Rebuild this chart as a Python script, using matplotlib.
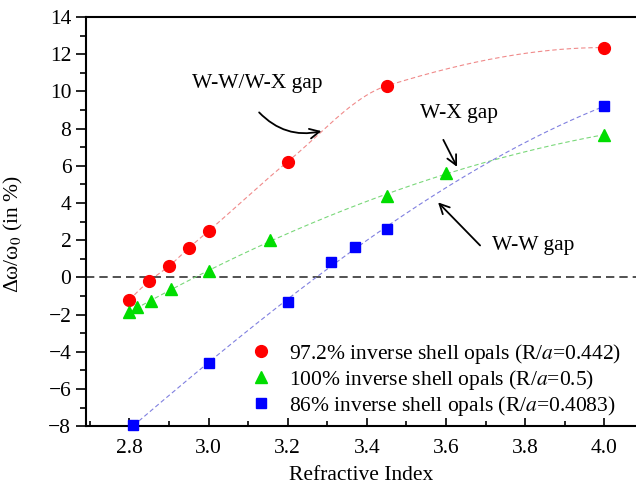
import numpy as np
import matplotlib
matplotlib.use("Agg")
import matplotlib.pyplot as plt
from matplotlib.ticker import MultipleLocator

# values
n_red = [2.80, 2.85, 2.90, 2.95, 3.00, 3.20, 3.45, 4.00]
gap_red = [-1.22, -0.20, 0.60, 1.58, 2.49, 6.22, 10.30, 12.36]

n_green = [2.80, 2.82, 2.855, 2.906, 3.00, 3.156, 3.45, 3.60, 4.00]
gap_green = [-1.86, -1.60, -1.29, -0.65, 0.34, 2.03, 4.37, 5.63, 7.67]

n_blue = [2.81, 3.00, 3.20, 3.31, 3.37, 3.45, 4.00]
gap_blue = [-7.96, -4.60, -1.30, 0.82, 1.61, 2.58, 9.21]

labels = [
    "97.2% inverse shell opals (R/$a$=0.442)",
    "100% inverse shell opals (R/$a$=0.5)",
    "86% inverse shell opals (R/$a$=0.4083)",
]

plt.rcParams["font.family"] = ["Liberation Serif", "DejaVu Serif"]
plt.rcParams["mathtext.fontset"] = "stix"

FS = 15.5


def pchip_curve(x, y, num=300):
    """Smooth monotone (PCHIP) guide line through the data points."""
    x = np.asarray(x, float)
    y = np.asarray(y, float)
    n = len(x)
    h = np.diff(x)
    delta = np.diff(y) / h
    d = np.zeros(n)
    for k in range(1, n - 1):
        if delta[k - 1] * delta[k] > 0:
            w1 = 2 * h[k] + h[k - 1]
            w2 = h[k] + 2 * h[k - 1]
            d[k] = (w1 + w2) / (w1 / delta[k - 1] + w2 / delta[k])

    def end_slope(h0, h1, d0, d1):
        s = ((2 * h0 + h1) * d0 - h0 * d1) / (h0 + h1)
        if np.sign(s) != np.sign(d0):
            s = 0.0
        elif np.sign(d0) != np.sign(d1) and abs(s) > abs(3 * d0):
            s = 3 * d0
        return s

    d[0] = end_slope(h[0], h[1], delta[0], delta[1])
    d[-1] = end_slope(h[-1], h[-2], delta[-1], delta[-2])

    xs = np.linspace(x[0], x[-1], num)
    i = np.clip(np.searchsorted(x, xs) - 1, 0, n - 2)
    t = (xs - x[i]) / h[i]
    ys = ((2 * t**3 - 3 * t**2 + 1) * y[i] + (t**3 - 2 * t**2 + t) * h[i] * d[i]
          + (-2 * t**3 + 3 * t**2) * y[i + 1] + (t**3 - t**2) * h[i] * d[i + 1])
    return xs, ys


def poly_curve(x, y, deg=3, num=300):
    xs = np.linspace(min(x), max(x), num)
    return xs, np.polyval(np.polyfit(x, y, deg), xs)


fig = plt.figure(figsize=(6.36, 4.87), dpi=100)
ax = fig.add_axes([0.135, 0.125, 0.865, 0.84])

series = [
    (n_red, gap_red, "o", "#ff0000", "#f08a8a", 8.5, pchip_curve),
    (n_green, gap_green, "^", "#00dd00", "#7ad87a", 9, poly_curve),
    (n_blue, gap_blue, "s", "#0000ff", "#8080e0", 7, poly_curve),
]

for (x, y, mk, col, lcol, ms, curve), lab in zip(series, labels):
    xs, ys = curve(x, y)
    ax.plot(xs, ys, ls=(0, (4, 2.5)), lw=0.8, color=lcol, zorder=2)
    ax.plot(x, y, mk, color=col, ms=ms, mec=col, label=lab, zorder=3, clip_on=False)

ax.axhline(0, color="#333333", ls=(0, (5, 3)), lw=1.2, zorder=1)

ax.set_xlim(2.69, 4.08)
ax.set_ylim(-8, 14)
ax.xaxis.set_major_locator(MultipleLocator(0.2))
ax.xaxis.set_minor_locator(MultipleLocator(0.1))
ax.yaxis.set_major_locator(MultipleLocator(2))
ax.yaxis.set_minor_locator(MultipleLocator(1))
ax.xaxis.set_major_formatter(plt.FuncFormatter(lambda v, p: f"{v:.1f}"))

ax.tick_params(axis="x", which="major", direction="in", length=6, width=1.2, labelsize=FS, pad=9)
ax.tick_params(axis="x", which="minor", direction="in", length=3.5, width=1.2)
ax.tick_params(axis="y", which="major", direction="out", length=7, width=1.2, labelsize=FS)
ax.tick_params(axis="y", which="minor", direction="out", length=4, width=1.2)
for s in ["left", "bottom", "top"]:
    ax.spines[s].set_linewidth(1.5)
ax.spines["right"].set_visible(False)

ax.set_xlabel("Refractive Index", fontsize=FS, labelpad=6)
ax.set_ylabel("Δω/ω$_0$ (in %)", fontsize=FS)
ax.yaxis.set_label_coords(-0.11, 0.47)

# annotations
arrow = dict(arrowstyle="->,head_length=0.7,head_width=0.35", color="black", lw=1.3)
ax.text(3.123, 10.43, "W-W/W-X gap", fontsize=FS, ha="center", va="center")
ax.annotate("", xy=(3.292, 7.90), xytext=(3.123, 8.98),
            arrowprops=dict(arrow, connectionstyle="arc3,rad=0.3"))
ax.text(3.633, 8.82, "W-X gap", fontsize=FS, ha="center", va="center")
ax.annotate("", xy=(3.631, 5.81), xytext=(3.590, 7.53), arrowprops=arrow)
ax.text(3.82, 1.72, "W-W gap", fontsize=FS, ha="center", va="center")
ax.annotate("", xy=(3.575, 4.14), xytext=(3.691, 1.61), arrowprops=arrow)

ax.legend(loc="lower right", bbox_to_anchor=(1.0, -0.017), frameon=False, fontsize=FS,
          handlelength=1.2, handletextpad=0.7, labelspacing=0.1, borderaxespad=0.3)

fig.savefig("out.png", dpi=100)
